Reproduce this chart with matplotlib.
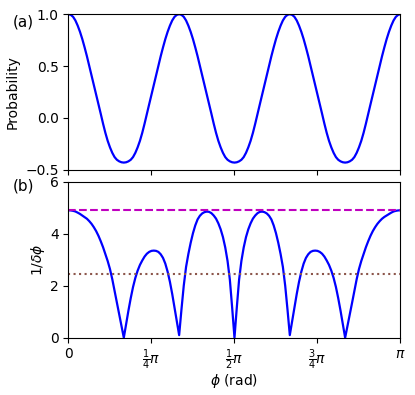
import numpy as np
import matplotlib
matplotlib.use("Agg")
import matplotlib.pyplot as plt

# phase grid in units of pi (step pi/144)
phi_frac = np.arange(145) / 144

# (a) probability
prob = [
    1.000, 0.994, 0.975, 0.940, 0.890, 0.830, 0.760, 0.680, 0.595, 0.503, 0.410, 0.318, 0.225,
    0.132, 0.040, -0.055, -0.143, -0.220, -0.283, -0.336, -0.377, -0.403, -0.418, -0.427, -0.430,
    -0.427, -0.418, -0.403, -0.377, -0.336, -0.283, -0.220, -0.143, -0.055, 0.040, 0.132, 0.225,
    0.318, 0.410, 0.503, 0.595, 0.680, 0.760, 0.830, 0.890, 0.940, 0.975, 0.994, 1.000,
    0.994, 0.975, 0.940, 0.890, 0.830, 0.760, 0.680, 0.595, 0.503, 0.410, 0.318, 0.225,
    0.132, 0.040, -0.055, -0.143, -0.220, -0.283, -0.336, -0.377, -0.403, -0.418, -0.427, -0.430,
    -0.427, -0.418, -0.403, -0.377, -0.336, -0.283, -0.220, -0.143, -0.055, 0.040, 0.132, 0.225,
    0.318, 0.410, 0.503, 0.595, 0.680, 0.760, 0.830, 0.890, 0.940, 0.975, 0.994, 1.000,
    0.994, 0.975, 0.940, 0.890, 0.830, 0.760, 0.680, 0.595, 0.503, 0.410, 0.318, 0.225,
    0.132, 0.040, -0.055, -0.143, -0.220, -0.283, -0.336, -0.377, -0.403, -0.418, -0.427, -0.430,
    -0.427, -0.418, -0.403, -0.377, -0.336, -0.283, -0.220, -0.143, -0.055, 0.040, 0.132, 0.225,
    0.318, 0.410, 0.503, 0.595, 0.680, 0.760, 0.830, 0.890, 0.940, 0.975, 0.994, 1.000,
]

# (b) inverse phase uncertainty
inv_dphi = [
    4.90, 4.895, 4.88, 4.855, 4.81, 4.76, 4.70, 4.645, 4.575, 4.485, 4.38, 4.25, 4.10,
    3.92, 3.71, 3.48, 3.22, 2.95, 2.64, 2.25, 1.80, 1.34, 0.89, 0.44, 0.00,
    0.52, 1.04, 1.52, 1.95, 2.30, 2.58, 2.80, 2.97, 3.12, 3.23, 3.30, 3.34,
    3.35, 3.34, 3.30, 3.21, 3.07, 2.85, 2.54, 2.15, 1.68, 1.15, 0.62, 0.10,
    1.08, 2.00, 2.72, 3.22, 3.65, 4.02, 4.32, 4.55, 4.69, 4.78, 4.83, 4.85,
    4.84, 4.79, 4.70, 4.58, 4.40, 4.17, 3.87, 3.47, 2.95, 2.23, 1.15, 0.00,
    1.15, 2.23, 2.95, 3.47, 3.87, 4.17, 4.40, 4.58, 4.70, 4.79, 4.84, 4.85,
    4.83, 4.78, 4.69, 4.55, 4.32, 4.02, 3.65, 3.22, 2.72, 2.00, 1.08,
    0.10, 0.62, 1.15, 1.68, 2.15, 2.54, 2.85, 3.07, 3.21, 3.30, 3.34, 3.35,
    3.34, 3.30, 3.23, 3.12, 2.97, 2.80, 2.58, 2.30, 1.95, 1.52, 1.04, 0.52,
    0.00, 0.44, 0.89, 1.34, 1.80, 2.25, 2.64, 2.95, 3.22, 3.48, 3.71, 3.92,
    4.10, 4.25, 4.38, 4.485, 4.575, 4.645, 4.70, 4.76, 4.81, 4.855, 4.88, 4.895, 4.90,
]

heisenberg = 4.90
sql = 2.45

xtick_pos = [0, 0.25, 0.5, 0.75, 1.0]
xtick_lab = ["0", r"$\frac{1}{4}\pi$", r"$\frac{1}{2}\pi$", r"$\frac{3}{4}\pi$", r"$\pi$"]

phi = phi_frac * np.pi

fig = plt.figure(figsize=(4.15, 3.95), dpi=100)
ax1 = fig.add_axes([0.165, 0.570, 0.800, 0.394])
ax2 = fig.add_axes([0.165, 0.145, 0.800, 0.395], sharex=ax1)

ax1.plot(phi, prob, color="b", lw=1.6)
ax1.set_ylim(-0.5, 1.0)
ax1.set_yticks([-0.5, 0.0, 0.5, 1.0])
ax1.set_ylabel("Probability")
ax1.tick_params(labelbottom=False)

ax2.plot(phi, inv_dphi, color="b", lw=1.6)
ax2.axhline(heisenberg, color="m", ls="--", lw=1.5)
ax2.axhline(sql, color="tab:brown", ls=":", lw=1.5)
ax2.set_ylim(0, 6)
ax2.set_yticks([0, 2, 4, 6])
ax2.set_ylabel(r"$1/\delta\phi$", labelpad=2)
ax2.set_xlim(0, np.pi)
ax2.set_xticks([p * np.pi for p in xtick_pos])
ax2.set_xticklabels(xtick_lab)
ax2.set_xlabel(r"$\phi$ (rad)", labelpad=0)

fig.text(0.03, 0.945, "(a)", fontsize=11, va="center")
fig.text(0.03, 0.528, "(b)", fontsize=11, va="center")

fig.savefig("out.png", dpi=100)
